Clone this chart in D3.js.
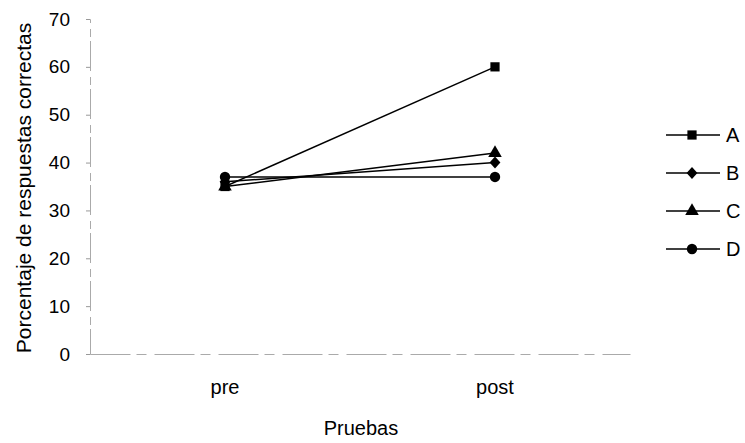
<!DOCTYPE html>
<html><head><meta charset="utf-8">
<script src="https://cdn.jsdelivr.net/npm/d3@7"></script>
<style>body{margin:0;background:#fff}svg{display:block}</style>
</head><body>
<svg id="c" width="745" height="443"></svg>
<script>
const categories = ["pre", "post"];
const seriesNames = ["A", "B", "C", "D"];
const seriesA = [35, 60];
const seriesB = [36, 40];
const seriesC = [35, 42];
const seriesD = [37, 37];
const yTicks = [0, 10, 20, 30, 40, 50, 60, 70];

const diamond = {draw(ctx, size) { const r = Math.sqrt(size) / 2 * 1.25; const h = r * 1.1;
  ctx.moveTo(0, -h); ctx.lineTo(r, 0); ctx.lineTo(0, h); ctx.lineTo(-r, 0); ctx.closePath(); }};
const symbols = [d3.symbolSquare, diamond, d3.symbolTriangle, d3.symbolCircle];
const symSizes = [85, 75, 80, 85];

const series = [seriesA, seriesB, seriesC, seriesD];
const svg = d3.select("#c");
const font = "Liberation Sans, Arial, sans-serif";
const x = d3.scaleBand().domain(categories).range([90, 630]);
const y = d3.scaleLinear().domain([0, 70]).range([354, 19]);

// y axis
const ya = svg.append("g").attr("transform", "translate(90,0)")
  .call(d3.axisLeft(y).tickValues(yTicks).tickSize(4).tickPadding(16));
ya.select(".domain").attr("stroke", "#aaa").attr("stroke-width", 1).attr("stroke-dasharray", "30,4,8,6");
ya.selectAll(".tick line").attr("stroke", "#999");
ya.selectAll("text").attr("font-family", font).attr("font-size", 19).attr("fill", "#000");

// x axis
const xa = svg.append("g").attr("transform", "translate(0,354)")
  .call(d3.axisBottom(x).tickSize(0).tickPadding(26));
xa.select(".domain").attr("stroke", "#aaa").attr("stroke-width", 1).attr("stroke-dasharray", "40,6,10,8");
xa.selectAll("text").attr("font-family", font).attr("font-size", 20).attr("fill", "#000");

// titles
svg.append("text").attr("x", 361).attr("y", 435).attr("text-anchor", "middle")
  .attr("font-family", font).attr("font-size", 20).text("Pruebas");
svg.append("text").attr("transform", "translate(31,188) rotate(-90)").attr("text-anchor", "middle")
  .attr("font-family", font).attr("font-size", 21).text("Porcentaje de respuestas correctas");

const cx = c => x(c) + x.bandwidth() / 2;
const line = d3.line().x((d, i) => cx(categories[i])).y(d => y(d));

series.forEach((s, k) => {
  svg.append("path").attr("d", line(s)).attr("fill", "none").attr("stroke", "#000").attr("stroke-width", 1.5);
});
series.forEach((s, k) => {
  svg.selectAll(null).data(s).enter().append("path")
    .attr("transform", (d, i) => `translate(${cx(categories[i])},${y(d)})`)
    .attr("d", d3.symbol().type(symbols[k]).size(symSizes[k])).attr("fill", "#000");
});

// legend
const lg = svg.append("g");
seriesNames.forEach((n, k) => {
  const ly = 135 + k * 38;
  lg.append("line").attr("x1", 666).attr("x2", 720).attr("y1", ly).attr("y2", ly).attr("stroke", "#000").attr("stroke-width", 1.5);
  lg.append("path").attr("transform", `translate(692,${ly})`).attr("d", d3.symbol().type(symbols[k]).size(symSizes[k])).attr("fill", "#000");
  lg.append("text").attr("x", 726).attr("y", ly + 7).attr("font-family", font).attr("font-size", 20).text(n);
});
</script>
</body></html>
